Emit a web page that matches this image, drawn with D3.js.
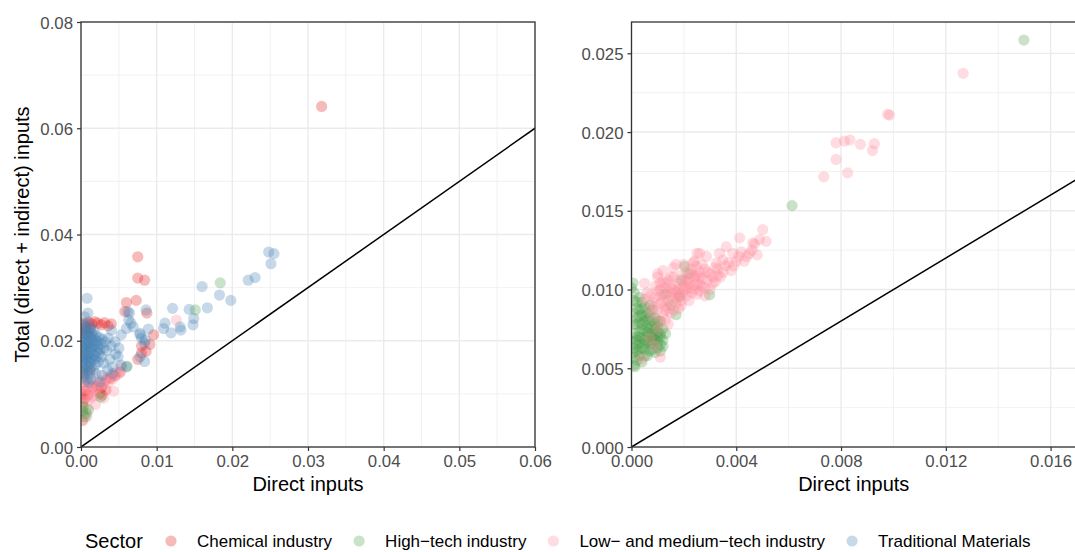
<!DOCTYPE html>
<html>
<head>
<meta charset="utf-8">
<script src="https://cdn.jsdelivr.net/npm/d3@7"></script>
<style>
  body { margin: 0; background: #fff; }
  svg { font-family: "Liberation Sans", Arial, sans-serif; }
</style>
</head>
<body>
<svg id="chart" width="1075" height="552"></svg>
<script>
// sectors + colours (legend order)
const sectors = ['Chemical industry', 'High\u2212tech industry', 'Low\u2212 and medium\u2212tech industry', 'Traditional Materials'];
const sectorColors = ['#E41A1C', '#4C9F4A', '#FF8A9B', '#4682B4'];

// tick values
const leftXTicks = [0, 0.01, 0.02, 0.03, 0.04, 0.05, 0.06];
const leftYTicks = [0, 0.02, 0.04, 0.06, 0.08];
const rightXTicks = [0, 0.004, 0.008, 0.012, 0.016];
const rightYTicks = [0, 0.005, 0.010, 0.015, 0.020, 0.025];

// left panel, [direct, total]
const leftChemical = [
  [0.0318,0.0641],[0.0075,0.0358],[0.0075,0.0318],[0.0084,0.0314],[0.0060,0.0272],[0.0073,0.0276],
  [0.0058,0.0255],[0.0087,0.0252],[0.0096,0.0211],[0.0080,0.0190],[0.0091,0.0193],[0.0086,0.0180],
  [0.0080,0.0177],[0.0075,0.0165],
  [0.0004,0.0233],[0.0010,0.0235],[0.0014,0.0232],[0.0018,0.0236],[0.0022,0.0233],[0.0027,0.0230],
  [0.0031,0.0234],[0.0036,0.0228],[0.0040,0.0232],[0.0006,0.0225],[0.0012,0.0222],[0.0002,0.0215],
  [0.0008,0.0212],
  [0.0003,0.0100],[0.0006,0.0105],[0.0009,0.0098],[0.0015,0.0112],[0.0021,0.0115],[0.0027,0.0112],
  [0.0033,0.0126],[0.0039,0.0130],[0.0045,0.0134],[0.0052,0.0141],[0.0025,0.0101],
  [0.0033,0.0107],[0.0005,0.0090],[0.0002,0.0082],[0.0002,0.0050],
  [0.0004,0.0122],[0.0002,0.0140],[0.0012,0.0145],[0.0028,0.0098]
];
const leftHighTech = [
  [0.0184,0.0309],[0.0151,0.0258],[0.0061,0.0152],[0.0003,0.0076],[0.0007,0.0063],[0.0005,0.0057],
  [0.0002,0.0068],[0.0010,0.0070],[0.0026,0.0094]
];
const leftLowMed = [
  [0.0126,0.0239],[0.0043,0.0105],[0.0019,0.0080],[0.0007,0.0072],[0.0054,0.0150],[0.0003,0.0062],
  [0.0030,0.0092],[0.0012,0.0108],[0.0018,0.0106],[0.0024,0.0119],[0.0030,0.0122],[0.0036,0.0121],
  [0.0042,0.0128],[0.0049,0.0137],[0.0005,0.0112],[0.0010,0.0115],[0.0016,0.0118],[0.0022,0.0110],
  [0.0028,0.0116],[0.0034,0.0130],[0.0040,0.0135],[0.0046,0.0140],[0.0008,0.0095],[0.0014,0.0102],
  [0.0020,0.0097],[0.0010,0.0088],[0.0015,0.0095],[0.0008,0.0057],[0.0008,0.0130],[0.0020,0.0128]
];
const leftTraditional = [
  [0.0248,0.0367],[0.0255,0.0364],[0.0251,0.0345],[0.0221,0.0314],[0.0230,0.0319],[0.0160,0.0302],
  [0.0183,0.0286],[0.0198,0.0276],[0.0167,0.0262],[0.0143,0.0259],[0.0149,0.0242],[0.0148,0.0230],
  [0.0121,0.0261],[0.0111,0.0233],[0.0109,0.0223],[0.0119,0.0215],[0.0131,0.0226],[0.0132,0.0220],
  [0.0064,0.0252],[0.0086,0.0258],[0.0063,0.0239],[0.0069,0.0226],[0.0060,0.0223],[0.0078,0.0211],
  [0.0089,0.0222],[0.0062,0.0255],[0.0066,0.0233],[0.0078,0.0214],[0.0080,0.0205],[0.0084,0.0195],
  [0.0078,0.0170],[0.0084,0.0161],[0.0049,0.0170],[0.0042,0.0151],[0.0053,0.0154],[0.0060,0.0151],
  [0.0040,0.0220],[0.0053,0.0211],[0.0085,0.0201],
  [0.0008,0.0280],[0.0009,0.0252],[0.0005,0.0245],
  [0.0002,0.0230],[0.0005,0.0226],[0.0008,0.0221],[0.0011,0.0218],[0.0014,0.0214],[0.0017,0.0219],
  [0.0020,0.0210],[0.0024,0.0206],[0.0028,0.0203],[0.0032,0.0198],[0.0036,0.0205],[0.0003,0.0208],
  [0.0006,0.0204],[0.0009,0.0199],[0.0012,0.0195],[0.0015,0.0201],[0.0018,0.0192],[0.0022,0.0188],
  [0.0026,0.0194],[0.0030,0.0186],[0.0002,0.0190],[0.0005,0.0186],[0.0008,0.0181],[0.0011,0.0177],
  [0.0014,0.0183],[0.0017,0.0174],[0.0020,0.0170],[0.0024,0.0176],[0.0003,0.0171],[0.0006,0.0166],
  [0.0009,0.0162],[0.0012,0.0158],[0.0015,0.0164],[0.0002,0.0153],[0.0005,0.0148],[0.0008,0.0143],
  [0.0011,0.0139],[0.0004,0.0133],[0.0007,0.0127],[0.0010,0.0122],[0.0001,0.0160],[0.0001,0.0180],
  [0.0001,0.0200],[0.0016,0.0146],[0.0019,0.0155],[0.0027,0.0170],[0.0034,0.0182],[0.0040,0.0190],
  [0.0045,0.0198],[0.0050,0.0186],[0.0046,0.0175],[0.0038,0.0165],[0.0030,0.0158],[0.0035,0.0145],
  [0.0042,0.0138],[0.0028,0.0135],[0.0020,0.0138],[0.0013,0.0128],[0.0025,0.0122],
  [0.0003,0.0220],[0.0007,0.0215],[0.0010,0.0209],[0.0013,0.0205],[0.0016,0.0208],[0.0019,0.0201],
  [0.0004,0.0197],[0.0007,0.0193],[0.0010,0.0188],[0.0013,0.0186],[0.0016,0.0189],[0.0004,0.0178],
  [0.0007,0.0174],[0.0010,0.0170],[0.0013,0.0167],[0.0003,0.0162],[0.0006,0.0157],[0.0009,0.0152],
  [0.0012,0.0149],[0.0002,0.0143],[0.0005,0.0138],[0.0001,0.0170],[0.0001,0.0190],[0.0001,0.0210],
  [0.0008,0.0232],[0.0013,0.0226],[0.0022,0.0199],[0.0025,0.0184],[0.0021,0.0180],[0.0018,0.0165],
  [0.0023,0.0160]
];

// right panel, [direct, total]
const rightHighTech = [
  [0.01498,0.02584],[0.00613,0.01533],[0.00203,0.01147],[0.00298,0.00966],[0.00006,0.01041],
  [0.00013,0.00510],[0.00082,0.00680],[0.00184,0.00955],
  [0.0001,0.0060],[0.0002,0.0065],[0.0003,0.0070],[0.0004,0.0075],[0.0005,0.0080],[0.0006,0.0085],
  [0.0007,0.0090],[0.0001,0.0072],[0.0002,0.0078],[0.0003,0.0083],[0.0004,0.0088],[0.0005,0.0062],
  [0.0006,0.0067],[0.0007,0.0072],[0.0008,0.0077],[0.0009,0.0082],[0.0010,0.0070],[0.0011,0.0065],
  [0.0012,0.0075],[0.0001,0.0085],[0.0002,0.0092],[0.0003,0.0058],[0.0004,0.0063],[0.0005,0.0068],
  [0.0006,0.0073],[0.0007,0.0061],[0.0008,0.0066],[0.0009,0.0071],[0.0010,0.0076],[0.0003,0.0095],
  [0.0001,0.0098],[0.0002,0.0055],[0.0001,0.0052],[0.0004,0.0054],[0.0008,0.0087],[0.0011,0.0080],
  [0.0012,0.0068],[0.0006,0.0058],[0.0009,0.0060],[0.0005,0.0074],[0.0003,0.0066],[0.0002,0.0070],
  [0.0007,0.0080],[0.0010,0.0063],[0.0013,0.0072],[0.0015,0.0090],[0.0013,0.0097],[0.0017,0.0084],
  [0.0001,0.0093],[0.0000,0.0101],[0.0022,0.0110],[0.0019,0.0106],
  [0.0001,0.0063],[0.0002,0.0068],[0.0003,0.0073],[0.0004,0.0078],[0.0005,0.0083],[0.0006,0.0070],
  [0.0007,0.0065],[0.0008,0.0070],[0.0009,0.0075],[0.0010,0.0067],[0.0011,0.0072],[0.0001,0.0078],
  [0.0002,0.0082],[0.0003,0.0087],[0.0004,0.0069],[0.0005,0.0065],[0.0006,0.0077],[0.0007,0.0083],
  [0.0008,0.0062],[0.0009,0.0068],[0.0010,0.0073],[0.0011,0.0061],[0.0012,0.0064],[0.0001,0.0067],
  [0.0002,0.0061],[0.0003,0.0079],[0.0004,0.0084],[0.0005,0.0089],[0.0006,0.0081],[0.0007,0.0075],
  [0.0008,0.0072],[0.0009,0.0078],[0.0002,0.0088],[0.0004,0.0092],[0.0001,0.0057],[0.0003,0.0062],
  [0.0005,0.0058],[0.0007,0.0068],[0.0010,0.0080],[0.0011,0.0070]
];
const rightLowMed = [
  [0.01266,0.02373],[0.00978,0.02113],[0.00985,0.02108],[0.00781,0.01932],[0.00813,0.01943],
  [0.00834,0.01949],[0.00874,0.01922],[0.00927,0.01926],[0.00920,0.01883],[0.00781,0.01826],
  [0.00825,0.01741],[0.00734,0.01716],[0.00501,0.01380],[0.00489,0.01317],[0.00514,0.01306],
  [0.00463,0.01295],[0.00413,0.01328],[0.00419,0.01240],[0.00387,0.01230],[0.00362,0.01272],
  [0.00336,0.01230],[0.00349,0.01188],[0.00324,0.01168],[0.00286,0.01210],[0.00260,0.01230],
  [0.00248,0.01147],[0.00235,0.01168],
  [0.0006,0.0098],[0.0008,0.0092],[0.0009,0.0102],[0.0010,0.0087],[0.0011,0.0096],[0.0012,0.0105],
  [0.0013,0.0090],[0.0014,0.0099],[0.0015,0.0108],[0.0016,0.0094],[0.0017,0.0102],[0.0018,0.0088],
  [0.0019,0.0097],[0.0020,0.0106],[0.0021,0.0100],[0.0022,0.0093],[0.0023,0.0110],[0.0024,0.0103],
  [0.0025,0.0097],[0.0026,0.0108],[0.0027,0.0102],[0.0028,0.0113],[0.0029,0.0106],[0.0030,0.0110],
  [0.0031,0.0104],[0.0032,0.0114],[0.0034,0.0108],[0.0036,0.0115],[0.0012,0.0112],[0.0016,0.0114],
  [0.0020,0.0116],[0.0024,0.0118],[0.0008,0.0083],[0.0011,0.0080],[0.0013,0.0081],[0.0015,0.0085],
  [0.0019,0.0090],[0.0007,0.0088],[0.0005,0.0094],[0.0010,0.0108],[0.0014,0.0093],[0.0018,0.0100],
  [0.0022,0.0104],[0.0026,0.0099],[0.0030,0.0100],[0.0033,0.0109],[0.0038,0.0112],[0.0040,0.0118],
  [0.0044,0.0121],[0.0046,0.0125],[0.0028,0.0096],[0.0017,0.0091],[0.0021,0.0111],[0.0011,0.0100],
  [0.0009,0.0095],[0.0013,0.0104],[0.0016,0.0087],[0.0012,0.0084],[0.0010,0.0075],[0.0014,0.0078],
  [0.0011,0.0057],[0.0004,0.0056],[0.0007,0.0069],[0.0009,0.0064],[0.0005,0.0104],[0.0010,0.0110],
  [0.0017,0.0116],[0.0025,0.0123],
  [0.0007,0.0096],[0.0009,0.0089],[0.0010,0.0099],[0.0011,0.0091],[0.0012,0.0097],[0.0013,0.0101],
  [0.0014,0.0088],[0.0015,0.0096],[0.0016,0.0100],[0.0017,0.0095],[0.0018,0.0104],[0.0019,0.0093],
  [0.0020,0.0099],[0.0021,0.0096],[0.0022,0.0101],[0.0023,0.0098],[0.0024,0.0108],[0.0025,0.0104],
  [0.0026,0.0103],[0.0027,0.0107],[0.0028,0.0101],[0.0029,0.0111],[0.0031,0.0108],[0.0032,0.0105],
  [0.0033,0.0113],[0.0035,0.0111],[0.0037,0.0117],[0.0039,0.0115],[0.0041,0.0121],[0.0043,0.0118],
  [0.0045,0.0123],[0.0047,0.0129],[0.0048,0.0122],[0.0012,0.0093],[0.0014,0.0106],[0.0016,0.0108],
  [0.0018,0.0096],[0.0020,0.0102],[0.0022,0.0107],[0.0024,0.0100],[0.0026,0.0111],[0.0015,0.0101],
  [0.0019,0.0109],[0.0023,0.0113],[0.0027,0.0116],[0.0011,0.0104],[0.0013,0.0087],[0.0017,0.0098],
  [0.0021,0.0105],[0.0025,0.0109]
];

const svg = d3.select('#chart');
const pointR = 5.6, pointAlpha = 0.3;

function drawPanel(opts) {
  const x = d3.scaleLinear().domain(opts.xDomain).range([opts.left, opts.right]);
  const y = d3.scaleLinear().domain(opts.yDomain).range([opts.bottom, opts.top]);
  const g = svg.append('g');

  // minor grid
  const mid = t => t.slice(1).map((v, i) => (v + t[i]) / 2);
  const xMinor = mid(opts.xTicks).concat(opts.xMinorExtra || []);
  const yMinor = mid(opts.yTicks);
  g.selectAll('.xminor').data(xMinor).enter().append('line')
    .attr('x1', d => x(d)).attr('x2', d => x(d)).attr('y1', opts.top).attr('y2', opts.bottom)
    .attr('stroke', '#ebebeb').attr('stroke-width', 0.7);
  g.selectAll('.yminor').data(yMinor).enter().append('line')
    .attr('x1', opts.left).attr('x2', opts.right).attr('y1', d => y(d)).attr('y2', d => y(d))
    .attr('stroke', '#ebebeb').attr('stroke-width', 0.7);
  // major grid
  g.selectAll('.xmajor').data(opts.xTicks).enter().append('line')
    .attr('x1', d => x(d)).attr('x2', d => x(d)).attr('y1', opts.top).attr('y2', opts.bottom)
    .attr('stroke', '#ebebeb').attr('stroke-width', 1.4);
  g.selectAll('.ymajor').data(opts.yTicks).enter().append('line')
    .attr('x1', opts.left).attr('x2', opts.right).attr('y1', d => y(d)).attr('y2', d => y(d))
    .attr('stroke', '#ebebeb').attr('stroke-width', 1.4);

  const clipId = 'clip' + opts.id;
  svg.append('clipPath').attr('id', clipId).append('rect')
    .attr('x', opts.left).attr('y', opts.top)
    .attr('width', opts.right - opts.left).attr('height', opts.bottom - opts.top);
  const plot = g.append('g').attr('clip-path', 'url(#' + clipId + ')');

  opts.series.forEach(s => {
    plot.append('g').selectAll('circle').data(s.data).enter().append('circle')
      .attr('cx', d => x(d[0])).attr('cy', d => y(d[1])).attr('r', pointR)
      .attr('fill', sectorColors[s.sector]).attr('fill-opacity', pointAlpha);
  });

  // 45 degree line
  const m = Math.max(opts.xDomain[1], opts.yDomain[1]);
  plot.append('line')
    .attr('x1', x(0)).attr('y1', y(0)).attr('x2', x(m)).attr('y2', y(m))
    .attr('stroke', '#000').attr('stroke-width', 1.5);

  // border
  g.append('rect').attr('x', opts.left).attr('y', opts.top)
    .attr('width', opts.right - opts.left).attr('height', opts.bottom - opts.top)
    .attr('fill', 'none').attr('stroke', '#333').attr('stroke-width', 1.3);

  const xAxis = d3.axisBottom(x).tickValues(opts.xTicks).tickFormat(d3.format(opts.fmtX))
    .tickSize(4).tickPadding(4);
  const yAxis = d3.axisLeft(y).tickValues(opts.yTicks).tickFormat(d3.format(opts.fmtY))
    .tickSize(4).tickPadding(4);
  const ax = g.append('g').attr('transform', 'translate(0,' + opts.bottom + ')').call(xAxis);
  const ay = g.append('g').attr('transform', 'translate(' + opts.left + ',0)').call(yAxis);
  [ax, ay].forEach(a => {
    a.select('.domain').remove();
    a.selectAll('line').attr('stroke', '#333').attr('stroke-width', 1.2);
    a.selectAll('text').attr('fill', '#4d4d4d').style('font-size', '16.8px');
  });
  ay.selectAll('text').attr('dy', '0.36em');

  g.append('text').attr('x', (opts.left + opts.right) / 2).attr('y', opts.bottom + 44)
    .attr('text-anchor', 'middle').style('font-size', '20px').text('Direct inputs');
}

drawPanel({
  id: 'L', left: 81, right: 535, top: 22, bottom: 447,
  xDomain: [0, 0.06], yDomain: [0, 0.08],
  xTicks: leftXTicks, yTicks: leftYTicks, fmtX: '.2f', fmtY: '.2f',
  series: [
    { sector: 0, data: leftChemical },
    { sector: 2, data: leftLowMed },
    { sector: 1, data: leftHighTech },
    { sector: 3, data: leftTraditional }
  ]
});

drawPanel({
  id: 'R', left: 631.5, right: 1076, top: 22, bottom: 447,
  xDomain: [0, 0.01697], yDomain: [0, 0.02699],
  xTicks: rightXTicks, yTicks: rightYTicks, fmtX: '.3f', fmtY: '.3f',
  series: [
    { sector: 1, data: rightHighTech },
    { sector: 2, data: rightLowMed }
  ]
});

// y title
svg.append('text')
  .attr('transform', 'translate(29,234.5) rotate(-90)')
  .attr('text-anchor', 'middle').style('font-size', '20px')
  .text('Total (direct + indirect) inputs');

// legend
const legend = svg.append('g').attr('transform', 'translate(0,541)');
legend.append('text').attr('x', 85).attr('y', 0).attr('dy', '0.36em')
  .style('font-size', '20px').text('Sector');
let lx = 171;
sectors.forEach((name, i) => {
  legend.append('circle').attr('cx', lx).attr('cy', 0).attr('r', pointR)
    .attr('fill', sectorColors[i]).attr('fill-opacity', pointAlpha);
  const t = legend.append('text').attr('x', lx + 26).attr('y', 0).attr('dy', '0.36em')
    .style('font-size', '17px').text(name);
  lx = lx + 26 + t.node().getComputedTextLength() + 27;
});
</script>
</body>
</html>
